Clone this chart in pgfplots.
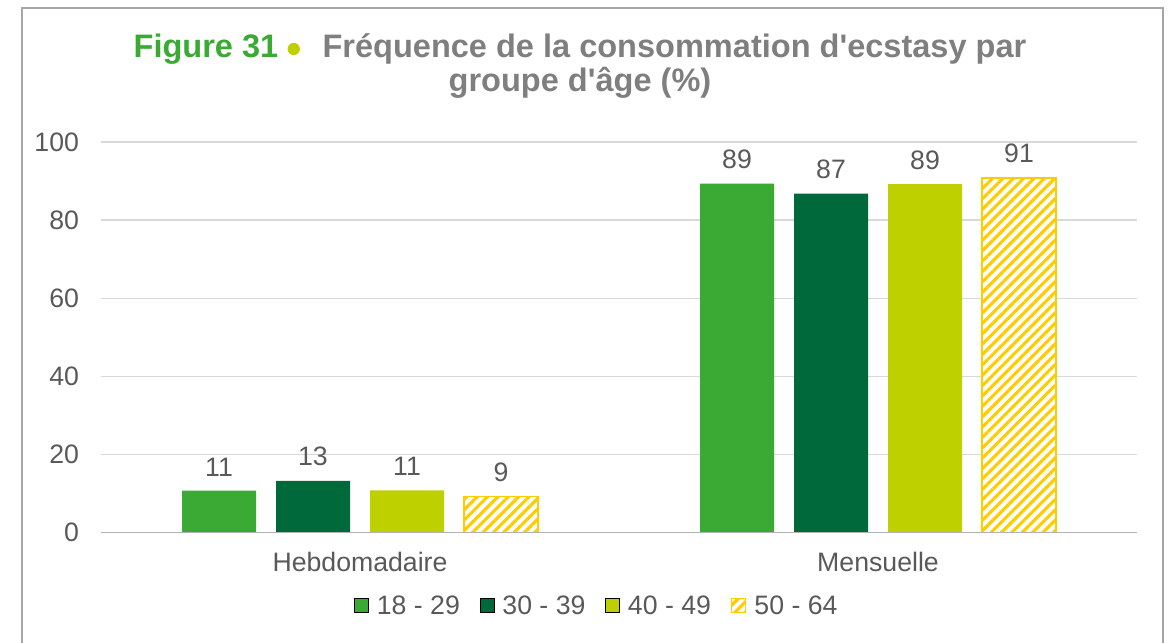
\documentclass[border=0pt]{standalone}
\usepackage{pgfplots}
\pgfplotsset{compat=1.18}
\usepackage{pgfplotstable}
\usepackage{fontspec}
\setmainfont{Liberation Sans}
\usetikzlibrary{patterns.meta}
\definecolor{gA}{HTML}{3AAA35}
\definecolor{gB}{HTML}{00693C}
\definecolor{gC}{HTML}{BFD000}
\definecolor{gD}{HTML}{FFCC00}
\definecolor{txt}{HTML}{595959}
\definecolor{ttl}{HTML}{7F7F7F}

\pgfplotstableread{
x a b c d
0 10.7 13.2 10.8 9.2
1 89.3 86.8 89.2 90.8
}\data

\begin{document}
\begin{tikzpicture}[x=1pt,y=1pt]
\useasboundingbox (0,0) rectangle (876.75,481.5);
\draw[color=black!35, line width=1.4pt] (16.5,-3) -- (16.5,475.5) -- (872.25,475.5) -- (872.25,-3);
\node[align=center, font=\fontsize{24.4}{25.3}\selectfont\bfseries, text=ttl] at (435,432) {\textcolor{gA}{Figure 31}\hspace{7pt}\tikz[baseline=0pt]\fill[gC] (0,6.5pt) circle (4.6pt);\hspace{17pt}Fréquence de la consommation d\textquotesingle ecstasy par\\groupe d\textquotesingle âge (\%)};
\begin{axis}[
  at={(75.75pt,82.125pt)}, anchor=south west,
  scale only axis, width=777pt, height=292.9pt,
  xmin=-0.5, xmax=1.5, ymin=0, ymax=100,
  ytick={0,20,...,100}, xtick={0,1},
  xticklabels={Hebdomadaire, Mensuelle},
  axis lines*=left, axis line style={draw=none},
  major tick length=0pt,
  ymajorgrids, grid style={color=black!15, line width=0.9pt},
  /pgf/number format/assume math mode=true,
  ticklabel style={font=\fontsize{20}{23}\selectfont, text=txt},
  yticklabel style={xshift=-13pt},
  xticklabel style={yshift=-11pt},
  ybar=15pt, bar width=55.5pt,
  nodes near coords={\pgfmathprintnumber[fixed,precision=0]{\pgfplotspointmeta}},
  every node near coord/.append style={font=\fontsize{20}{23}\selectfont, text=txt, yshift=7.5pt},
  legend columns=4,
  legend style={at={(0.479,-0.188)}, anchor=center, draw=none, fill=none,
    font=\fontsize{20}{23}\selectfont, text=txt,
    /tikz/every odd column/.append style={column sep=4pt},
    /tikz/every even column/.append style={column sep=13pt}},
  legend cell align=left,
  legend image code/.code={\draw[#1] (0pt,-5pt) rectangle (10.5pt,5.5pt);},
]
\addplot[draw=none, fill=gA] table[x=x,y=a] {\data};
\addplot[draw=none, fill=gB] table[x=x,y=b] {\data};
\addplot[draw=none, fill=gC] table[x=x,y=c] {\data};
\addplot[draw=gD, line width=1.1pt, fill=white, postaction={pattern={Lines[angle=45,distance=5.5pt,line width=2.3pt]}, pattern color=gD}] table[x=x,y=d] {\data};
\legend{18 - 29, 30 - 39, 40 - 49, 50 - 64}
\draw[color=black!30, line width=1.2pt] (axis cs:-0.5,0) -- (axis cs:1.5,0);
\end{axis}
\end{tikzpicture}
\end{document}
